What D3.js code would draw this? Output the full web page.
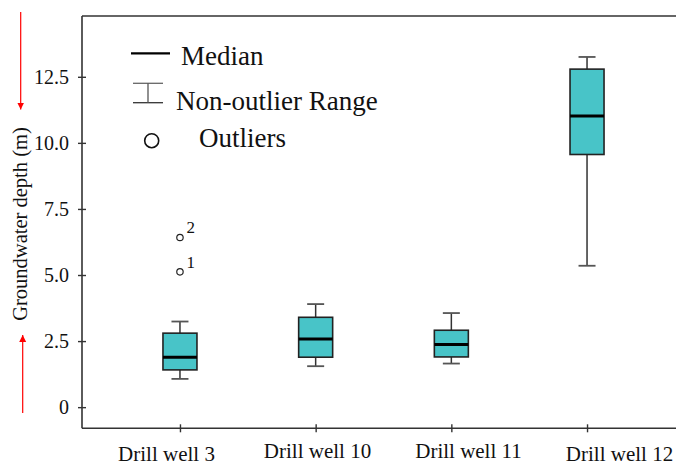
<!DOCTYPE html>
<html>
<head>
<meta charset="utf-8">
<script src="https://cdn.jsdelivr.net/npm/d3@7"></script>
<style>
  html, body { margin: 0; padding: 0; background: #fff; }
  svg text { font-family: "Liberation Serif", "Times New Roman", serif !important; }
</style>
</head>
<body>
<svg id="chart" width="676" height="466"></svg>
<script>
// Groundwater depth by drill well: box summaries
const categories  = ["Drill well 3", "Drill well 10", "Drill well 11", "Drill well 12"];
const whiskerLow  = [1.07, 1.55, 1.65, 5.35];
const quartile1   = [1.41, 1.89, 1.90, 9.56];
const medians     = [1.89, 2.58, 2.37, 11.02];
const quartile3   = [2.80, 3.40, 2.91, 12.79];
const whiskerHigh = [3.24, 3.90, 3.56, 13.25];

// Outlying observations (well, value, case number)
const outlierWells  = ["Drill well 3", "Drill well 3"];
const outlierValues = [6.42, 5.12];
const outlierLabels = ["2", "1"];

// Y axis ticks and their printed labels
const yTickValues = [0, 2.5, 5, 7.5, 10, 12.5];
const yTickLabels = ["0", "2.5", "5.0", "7.5", "10.0", "12.5"];

const svg = d3.select("#chart");
const plotLeft = 82, plotTop = 16, plotBottom = 428.3, plotRight = 685;

const x = d3.scalePoint().domain(categories).range([plotLeft, plotRight]).padding(0.722);
const xLabel = d3.scalePoint().domain(categories).range([166.5, 619.5]);
const y = d3.scaleLinear().domain([-0.8, 14.8]).range([plotBottom, plotTop]);

const boxW = 34, capW = 17;
const boxes = categories.map((c, i) => ({
  c, lo: whiskerLow[i], q1: quartile1[i], med: medians[i], q3: quartile3[i], hi: whiskerHigh[i]
}));

// Frame: top rule
svg.append("line").attr("x1", plotLeft).attr("x2", plotRight).attr("y1", plotTop).attr("y2", plotTop)
  .attr("stroke", "#333").attr("stroke-width", 1.6);

// Y axis
const yAxis = d3.axisLeft(y).tickValues(yTickValues)
  .tickFormat((d, i) => yTickLabels[i]).tickSizeOuter(0).tickSize(4).tickPadding(9);
const gy = svg.append("g").attr("transform", `translate(${plotLeft},0)`).call(yAxis);
gy.attr("font-family", null);
gy.select(".domain").attr("d", `M0,${plotTop}V${plotBottom}`).attr("stroke", "#333").attr("stroke-width", 1.6);
gy.selectAll(".tick line").attr("x1", 4).attr("x2", -4).attr("stroke", "#333").attr("stroke-width", 1.4);
gy.selectAll(".tick text").attr("x", -13).attr("font-size", 20).attr("fill", "#111");

// X axis
const xAxis = d3.axisBottom(x).tickSizeOuter(0).tickSize(4).tickFormat("");
const gx = svg.append("g").attr("transform", `translate(0,${plotBottom})`).call(xAxis);
gx.select(".domain").attr("d", `M${plotLeft},0H${plotRight}`).attr("stroke", "#333").attr("stroke-width", 1.6);
gx.selectAll(".tick line").attr("y1", -4).attr("y2", 4).attr("stroke", "#333").attr("stroke-width", 1.4);

// Category labels
const labelBase = [460.5, 458, 458, 460.5];
svg.append("g").selectAll("text").data(categories).join("text")
  .attr("x", d => xLabel(d)).attr("y", (d, i) => labelBase[i])
  .attr("text-anchor", "middle").attr("font-size", 21).attr("fill", "#111")
  .text(d => d);

// Y axis title
svg.append("text")
  .attr("transform", "translate(27,224) rotate(-90)")
  .attr("text-anchor", "middle").attr("font-size", 20.5).attr("fill", "#111")
  .text("Groundwater depth (m)");

// Red direction arrows beside the axis title
const defs = svg.append("defs");
defs.append("marker").attr("id", "redHead").attr("viewBox", "0 0 10 10")
  .attr("refX", 10).attr("refY", 5).attr("markerWidth", 7).attr("markerHeight", 8)
  .attr("markerUnits", "userSpaceOnUse").attr("orient", "auto")
  .append("path").attr("d", "M0,0L10,5L0,10Z").attr("fill", "#f00");
svg.append("line").attr("x1", 20.7).attr("x2", 20.7).attr("y1", 12).attr("y2", 109.5)
  .attr("stroke", "#f00").attr("stroke-width", 1.2).attr("marker-end", "url(#redHead)");
svg.append("line").attr("x1", 22.7).attr("x2", 22.7).attr("y1", 413).attr("y2", 335)
  .attr("stroke", "#f00").attr("stroke-width", 1.2).attr("marker-end", "url(#redHead)");

// Boxes
const g = svg.append("g");
const b = g.selectAll("g.box").data(boxes).join("g").attr("class", "box");
b.append("line").attr("x1", d => x(d.c)).attr("x2", d => x(d.c))
  .attr("y1", d => y(d.hi)).attr("y2", d => y(d.q3)).attr("stroke", "#333").attr("stroke-width", 1.5);
b.append("line").attr("x1", d => x(d.c)).attr("x2", d => x(d.c))
  .attr("y1", d => y(d.q1)).attr("y2", d => y(d.lo)).attr("stroke", "#333").attr("stroke-width", 1.5);
b.append("line").attr("x1", d => x(d.c) - capW / 2).attr("x2", d => x(d.c) + capW / 2)
  .attr("y1", d => y(d.hi)).attr("y2", d => y(d.hi)).attr("stroke", "#555").attr("stroke-width", 1.8);
b.append("line").attr("x1", d => x(d.c) - capW / 2).attr("x2", d => x(d.c) + capW / 2)
  .attr("y1", d => y(d.lo)).attr("y2", d => y(d.lo)).attr("stroke", "#555").attr("stroke-width", 1.8);
b.append("rect").attr("x", d => x(d.c) - boxW / 2).attr("width", boxW)
  .attr("y", d => y(d.q3)).attr("height", d => y(d.q1) - y(d.q3))
  .attr("fill", "#48C4C8").attr("stroke", "#222").attr("stroke-width", 1.6);
b.append("line").attr("x1", d => x(d.c) - boxW / 2).attr("x2", d => x(d.c) + boxW / 2)
  .attr("y1", d => y(d.med)).attr("y2", d => y(d.med)).attr("stroke", "#000").attr("stroke-width", 3);

// Outliers with case numbers
const outliers = outlierValues.map((v, i) => ({ c: outlierWells[i], v, label: outlierLabels[i] }));
g.selectAll("circle.out").data(outliers).join("circle").attr("class", "out")
  .attr("cx", d => x(d.c)).attr("cy", d => y(d.v)).attr("r", 3.2)
  .attr("fill", "#fff").attr("stroke", "#222").attr("stroke-width", 1.2);
g.selectAll("text.out").data(outliers).join("text").attr("class", "out")
  .attr("x", d => x(d.c) + 6.5).attr("y", d => y(d.v) - 4)
  .attr("font-size", 17).attr("fill", "#111").text(d => d.label);

// Legend
const lg = svg.append("g");
lg.append("line").attr("x1", 131).attr("x2", 170).attr("y1", 53.3).attr("y2", 53.3)
  .attr("stroke", "#000").attr("stroke-width", 2.2);
lg.append("text").attr("x", 181).attr("y", 64.5).attr("font-size", 27).attr("fill", "#111").text("Median");
lg.append("line").attr("x1", 133).attr("x2", 163).attr("y1", 83.3).attr("y2", 83.3)
  .attr("stroke", "#666").attr("stroke-width", 1.3);
lg.append("line").attr("x1", 133).attr("x2", 163).attr("y1", 102.7).attr("y2", 102.7)
  .attr("stroke", "#333").attr("stroke-width", 1.3);
lg.append("line").attr("x1", 148).attr("x2", 148).attr("y1", 83.3).attr("y2", 102.7)
  .attr("stroke", "#555").attr("stroke-width", 1.3);
lg.append("text").attr("x", 176).attr("y", 110).attr("font-size", 27).attr("fill", "#111").text("Non-outlier Range");
lg.append("circle").attr("cx", 151.7).attr("cy", 140.7).attr("r", 7)
  .attr("fill", "#fff").attr("stroke", "#111").attr("stroke-width", 1.6);
lg.append("text").attr("x", 199).attr("y", 146.7).attr("font-size", 27).attr("fill", "#111").text("Outliers");
</script>
</body>
</html>
